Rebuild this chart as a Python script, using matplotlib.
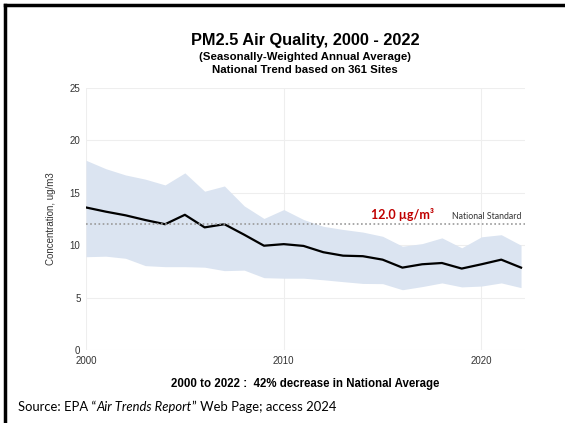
import matplotlib.pyplot as plt
from matplotlib.lines import Line2D

plt.rcParams['font.family'] = ['Liberation Sans', 'DejaVu Sans']

years = list(range(2000, 2023))
# national mean
mean = [13.6, 13.2, 12.85, 12.4, 12.0, 12.9, 11.7, 12.0, 11.0, 9.95, 10.1,
        9.93, 9.33, 9.0, 8.95, 8.62, 7.86, 8.18, 8.3, 7.77, 8.18, 8.62, 7.86]
# 90th percentile
upper = [18.1, 17.3, 16.7, 16.3, 15.75, 16.9, 15.15, 15.65, 13.75, 12.55, 13.4,
         12.45, 11.8, 11.5, 11.25, 10.85, 9.9, 10.15, 10.7, 9.75, 10.8, 11.0, 10.0]
# 10th percentile
lower = [8.9, 8.95, 8.75, 8.05, 7.95, 7.95, 7.9, 7.57, 7.62, 6.9, 6.85,
         6.85, 6.7, 6.52, 6.35, 6.33, 5.75, 6.05, 6.4, 6.02, 6.1, 6.4, 5.95]
standard = 12.0
yticks = [0, 5, 10, 15, 20, 25]
xticks = [2000, 2010, 2020]

fig = plt.figure(figsize=(5.65, 4.23), dpi=100)
ax = fig.add_axes([0.1522, 0.1726, 0.777, 0.6194])

ax.fill_between(years, lower, upper, color='#dbe4f1', lw=0)
ax.plot(years, mean, color='black', lw=1.6)
ax.axhline(standard, color='#999999', ls=(0, (1, 1.5)), lw=1.2)

ax.set_xlim(2000, 2022.2)
ax.set_ylim(0, 25)
ax.set_yticks(yticks)
ax.set_xticks(xticks)
ax.grid(True, color='#eeeeee', lw=0.8)
ax.set_axisbelow(True)
for s in ax.spines.values():
    s.set_visible(False)
ax.tick_params(length=0, labelsize=7, colors='#333333', pad=4)
ax.set_ylabel('Concentration, ug/m3', fontsize=7, color='#333333', labelpad=10)

ax.text(2017.6, 12.35, '12.0 µg/m³', color='#c00000', fontsize=9,
        fontweight='bold', ha='right', va='bottom', family=['Lato', 'DejaVu Sans'])
ax.text(2022, 12.3, 'National Standard', color='#333333', fontsize=6.3,
        ha='right', va='bottom', family=['Lato', 'DejaVu Sans'])

fig.text(0.54, 0.905, 'PM2.5 Air Quality, 2000 - 2022', ha='center', va='center',
         fontsize=11.8, fontweight='bold')
fig.text(0.54, 0.865, '(Seasonally-Weighted Annual Average)', ha='center', va='center',
         fontsize=8.2, fontweight='bold')
fig.text(0.54, 0.834, 'National Trend based on 361 Sites', ha='center', va='center',
         fontsize=8.2, fontweight='bold')
fig.text(0.54, 0.092, '2000 to 2022 :  42% decrease in National Average', ha='center',
         va='center', fontsize=8.3, fontweight='bold')

# source line built piecewise for the italic title
src_font = ['Lato', 'DejaVu Sans']
t1 = fig.text(0.032, 0.028, 'Source: EPA \u201c', fontsize=9.4, family=src_font)
fig.canvas.draw()
r = fig.canvas.get_renderer()
x = t1.get_window_extent(r).x1 / fig.bbox.width
t2 = fig.text(x, 0.028, 'Air Trends Report', fontsize=9.4, family=src_font, style='italic')
x = t2.get_window_extent(r).x1 / fig.bbox.width
fig.text(x, 0.028, '\u201d Web Page; access 2024', fontsize=9.4, family=src_font)

# black frame on top and left edges
fig.add_artist(Line2D([0.008, 1], [0.988, 0.988], color='black', lw=2.5, transform=fig.transFigure))
fig.add_artist(Line2D([0.0095, 0.0095], [0, 0.988], color='black', lw=2.5, transform=fig.transFigure))

fig.savefig('out.png', dpi=100)
